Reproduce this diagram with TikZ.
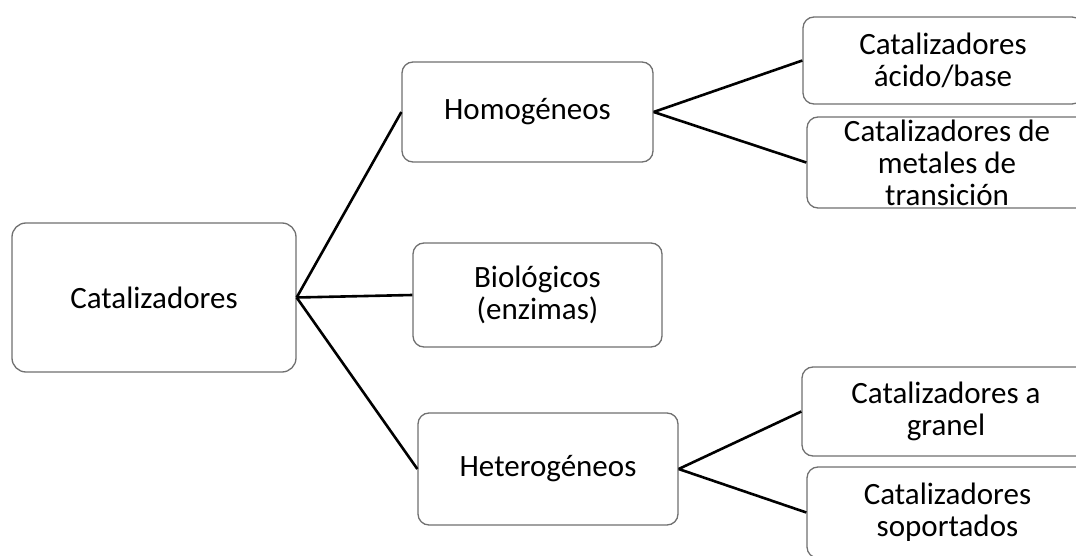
\documentclass[tikz,border=0pt]{standalone}
\usepackage{fontspec}
\setmainfont{Carlito}
\begin{document}
\begin{tikzpicture}[x=1pt,y=-1pt,
  box/.style={draw={rgb,255:red,112;green,112;blue,112}, line width=1.3pt, fill=white,
    rounded corners=11pt, inner sep=0pt, align=center,
    font=\fontsize{31}{32}\selectfont, text=black},
  link/.style={line width=2.6pt, black}]
\useasboundingbox (0,0) rectangle (1076,556);
\clip (0,0) rectangle (1076,556);
\node[box, minimum width=284pt, minimum height=149pt, rounded corners=14pt] (cat) at (154,297.5) {Catalizadores};
\node[box, minimum width=251pt, minimum height=100pt] (hom) at (527.5,112) {Homogéneos};
\node[box, minimum width=249pt, minimum height=104pt] (bio) at (537.5,295) {Biológicos\\(enzimas)};
\node[box, minimum width=260pt, minimum height=112pt] (het) at (548,469) {Heterogéneos};
\node[box, minimum width=280pt, minimum height=87pt] (acid) at (943,60.5) {Catalizadores\\ácido/base};
\node[box, minimum width=280pt, minimum height=91pt] (met) at (947,162.5) {Catalizadores de\\metales de\\transición};
\node[box, minimum width=288pt, minimum height=89pt] (gra) at (946,411.5) {Catalizadores a\\granel};
\node[box, minimum width=281pt, minimum height=91pt] (sop) at (947.5,512.5) {Catalizadores\\soportados};
\draw[link] (cat.east) -- (hom.west);
\draw[link] (cat.east) -- (bio.west);
\draw[link] (cat.east) -- (het.west);
\draw[link] (hom.east) -- (acid.west);
\draw[link] (hom.east) -- (met.west);
\draw[link] (het.east) -- (gra.west);
\draw[link] (het.east) -- (sop.west);
\end{tikzpicture}
\end{document}
